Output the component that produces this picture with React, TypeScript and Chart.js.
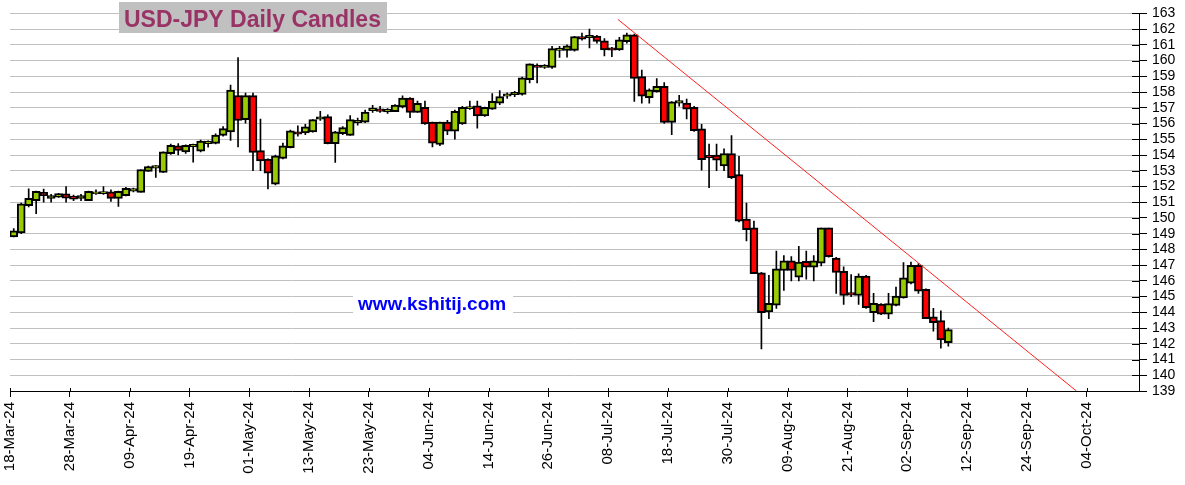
import React, { useEffect, useRef } from "react";
import { Chart, registerables } from "chart.js";

Chart.register(...registerables);

// X axis tick labels, one every 8 trading days starting at day 0
const tickLabels = [
  "18-Mar-24", "28-Mar-24", "09-Apr-24", "19-Apr-24", "01-May-24", "13-May-24",
  "23-May-24", "04-Jun-24", "14-Jun-24", "26-Jun-24", "08-Jul-24", "18-Jul-24",
  "30-Jul-24", "09-Aug-24", "21-Aug-24", "02-Sep-24", "12-Sep-24", "24-Sep-24",
  "04-Oct-24",
];
const tickStep = 8;
const dayCount = 151;

const opens = [
  148.85, 149.1, 150.84, 151.15, 151.57, 151.3, 151.38, 151.47, 151.33, 151.3,
  151.15, 151.58, 151.6, 151.6, 151.3, 151.47, 151.76, 151.68, 153.02, 153.23,
  152.95, 154.14, 154.52, 154.25, 154.58, 154.3, 154.78, 154.79, 155.31, 155.52,
  157.72, 156.31, 157.72, 154.22, 153.68, 152.2, 153.84, 154.53, 155.42, 155.46,
  155.52, 156.33, 156.38, 154.78, 155.41, 155.31, 156.11, 156.14, 156.88, 156.87,
  156.8, 156.82, 157.12, 157.55, 156.76, 156.97, 156.03, 154.73, 156.03, 155.57,
  156.03, 157.0, 157.07, 156.55, 156.97, 157.35, 157.8, 157.9, 157.91, 158.85,
  159.66, 159.63, 159.63, 160.7, 160.7, 160.7, 161.47, 161.51, 161.5, 161.2,
  160.75, 160.74, 161.26, 161.58, 158.92, 157.7, 158.08, 158.3, 156.13, 157.36,
  157.24, 156.97, 155.6, 153.92, 153.94, 153.36, 154.03, 152.69, 149.86, 149.31,
  146.45, 144.08, 144.52, 146.72, 147.22, 146.3, 147.18, 146.93, 147.18, 149.31,
  147.39, 146.55, 145.19, 145.13, 146.24, 144.04, 144.46, 143.94, 144.5, 144.98,
  145.92, 146.93, 145.4, 143.66, 143.41, 142.13,
];
const highs = [
  149.33, 150.95, 151.85, 151.7, 151.84, 151.5, 151.57, 151.99, 151.45, 151.5,
  151.7, 151.78, 151.99, 151.78, 151.7, 151.95, 151.9, 153.05, 153.3, 153.32,
  154.2, 154.7, 154.72, 154.65, 154.7, 154.95, 154.9, 155.35, 155.8, 158.45,
  160.19, 157.93, 157.93, 156.29, 153.75, 154.0, 154.75, 155.58, 155.85, 155.95,
  156.25, 156.78, 156.55, 155.5, 155.8, 156.5, 156.35, 156.85, 157.15, 157.1,
  156.95, 157.2, 157.76, 157.65, 157.42, 157.42, 156.1, 156.1, 156.2, 156.85,
  157.1, 157.42, 157.42, 157.05, 157.9, 158.1, 157.95, 158.05, 158.95, 159.8,
  159.8, 159.75, 160.9, 160.9, 161.0, 161.55, 161.75, 162.0, 161.6, 161.4,
  160.85, 161.48, 161.75, 161.68, 159.4, 158.2, 158.85, 158.6, 157.4, 157.8,
  157.55, 157.1, 155.95, 154.7, 154.7, 154.4, 155.24, 153.92, 150.95, 149.8,
  146.55, 146.35, 147.9, 147.6, 147.55, 148.2, 147.9, 147.6, 149.35, 149.35,
  147.5, 146.9, 146.4, 146.45, 146.35, 145.2, 144.55, 145.2, 145.6, 147.17,
  147.2, 147.1, 145.5, 144.25, 144.1, 143.0,
];
const lows = [
  148.8, 149.0, 150.7, 150.27, 151.0, 151.0, 151.3, 151.0, 151.1, 151.1,
  151.1, 151.5, 151.5, 151.05, 150.73, 151.4, 151.65, 151.63, 152.95, 152.58,
  152.9, 154.04, 154.0, 154.1, 153.55, 154.2, 154.5, 154.7, 155.2, 154.93,
  154.51, 156.03, 153.0, 153.0, 151.85, 152.1, 153.75, 154.45, 155.2, 155.3,
  155.45, 156.2, 154.7, 153.53, 155.3, 155.25, 155.9, 156.05, 156.7, 156.7,
  156.65, 156.75, 157.0, 156.37, 156.7, 155.95, 154.52, 154.6, 155.3, 155.0,
  155.95, 156.9, 155.7, 156.45, 156.9, 157.2, 157.6, 157.7, 157.8, 158.58,
  158.58, 159.5, 159.5, 160.2, 160.22, 160.6, 161.3, 160.8, 161.1, 160.3,
  160.25, 160.65, 161.1, 157.4, 157.3, 157.3, 158.0, 156.0, 155.3, 157.1,
  156.3, 155.5, 153.04, 151.93, 153.0, 153.0, 152.5, 149.75, 148.54, 146.45,
  141.67, 143.6, 144.25, 145.4, 146.0, 146.0, 146.1, 146.0, 146.95, 147.5,
  145.2, 144.5, 145.0, 144.5, 144.25, 143.4, 143.85, 143.6, 144.4, 144.9,
  145.8, 145.2, 143.6, 142.8, 141.73, 141.85,
];
const closes = [
  149.12, 150.84, 151.19, 151.63, 151.47, 151.36, 151.48, 151.32, 151.25, 151.36,
  151.63, 151.6, 151.62, 151.3, 151.63, 151.82, 151.8, 153.02, 153.2, 153.27,
  154.14, 154.56, 154.35, 154.56, 154.62, 154.83, 154.82, 155.2, 155.62, 158.07,
  156.25, 157.72, 154.22, 153.68, 152.9, 153.88, 154.53, 155.48, 155.38, 155.73,
  156.19, 156.37, 154.78, 155.41, 155.69, 156.19, 156.15, 156.67, 156.92, 156.83,
  156.84, 157.12, 157.55, 156.76, 157.22, 156.03, 154.81, 156.03, 155.57, 156.72,
  156.97, 157.02, 156.55, 156.97, 157.35, 157.66, 157.82, 157.92, 158.85, 159.73,
  159.62, 159.65, 160.7, 160.73, 160.88, 161.47, 161.43, 161.55, 161.28, 160.74,
  160.72, 161.26, 161.58, 158.92, 157.8, 158.08, 158.3, 156.13, 157.32, 157.4,
  156.97, 155.6, 153.77, 153.88, 153.73, 154.03, 152.62, 149.86, 149.31, 146.51,
  144.04, 144.52, 146.7, 147.22, 146.72, 147.14, 146.93, 147.22, 149.31, 147.6,
  146.59, 145.13, 145.15, 146.24, 144.35, 144.52, 143.94, 144.5, 144.98, 146.13,
  146.93, 145.4, 143.66, 143.41, 142.3, 142.84,
];

// Trendline endpoints: [day index, price]
const trendStart = [81.3, 162.62];
const trendEnd = [142.63, 139];

const yMin = 139;
const yMax = 163;

const FONT = 'Arial, "Liberation Sans", sans-serif';

const overlayPlugin = {
  id: "overlayText",
  beforeDatasetsDraw(chart: any) {
    const ctx = chart.ctx;
    ctx.save();
    // title box
    ctx.fillStyle = "#c0c0c0";
    ctx.fillRect(119, 2, 268, 31);
    ctx.fillStyle = "#993366";
    ctx.font = `bold 23px ${FONT}`;
    ctx.textBaseline = "alphabetic";
    ctx.textAlign = "left";
    ctx.fillText("USD-JPY Daily Candles", 124, 27);
    // website label
    ctx.fillStyle = "#ffffff";
    ctx.fillRect(353, 290, 160, 26);
    ctx.fillStyle = "#0000ff";
    ctx.font = `bold 19px ${FONT}`;
    ctx.fillText("www.kshitij.com", 358, 310);
    ctx.restore();
  },
  afterDraw(chart: any) {
    const ctx = chart.ctx;
    const { right, bottom } = chart.chartArea;
    const ys = chart.scales.y;
    const xs = chart.scales.x;
    ctx.save();
    ctx.strokeStyle = "#000";
    ctx.lineWidth = 1;
    ctx.beginPath();
    ys.ticks.forEach((t: any) => {
      const py = Math.round(ys.getPixelForValue(t.value)) + 0.5;
      ctx.moveTo(right - 7, py);
      ctx.lineTo(right, py);
    });
    xs.ticks.forEach((t: any) => {
      const px = Math.round(xs.getPixelForValue(t.value)) + 0.5;
      ctx.moveTo(px, bottom - 3);
      ctx.lineTo(px, bottom);
    });
    ctx.stroke();
    ctx.restore();
  },
};

export default function App() {
  const ref = useRef<HTMLCanvasElement | null>(null);

  useEffect(() => {
    if (!ref.current) return;
    const bodyPad = 0.06;
    const bodies = opens.map((o, i) => ({
      x: i + 0.5,
      y: [Math.min(o, closes[i]) - bodyPad, Math.max(o, closes[i]) + bodyPad],
    }));
    const bodyColors = opens.map((o, i) => (closes[i] >= o ? "#99cc00" : "#ff0000"));
    const wicks = highs.map((h, i) => ({ x: i + 0.5, y: [lows[i], h] }));

    const chart = new Chart(ref.current, {
      type: "bar",
      data: {
        datasets: [
          {
            type: "line",
            data: [
              { x: trendStart[0], y: trendStart[1] },
              { x: trendEnd[0], y: trendEnd[1] },
            ],
            borderColor: "#ff2020",
            borderWidth: 1,
            pointRadius: 0,
            fill: false,
            order: 0,
          } as any,
          {
            type: "bar",
            data: bodies as any,
            backgroundColor: bodyColors,
            borderColor: "#000000",
            borderWidth: 2,
            borderSkipped: false,
            barThickness: 8,
            grouped: false,
            order: 1,
          } as any,
          {
            type: "bar",
            data: wicks as any,
            backgroundColor: "#000000",
            borderWidth: 0,
            barThickness: 1,
            grouped: false,
            order: 2,
          } as any,
        ],
      },
      options: {
        animation: false,
        responsive: false,
        events: [],
        layout: { padding: { left: 10, top: 9, right: 0, bottom: 0 } },
        plugins: {
          legend: { display: false },
          tooltip: { enabled: false },
          title: { display: false },
        },
        scales: {
          x: {
            type: "linear",
            min: 0,
            max: dayCount,
            offset: false,
            afterBuildTicks: (scale: any) => {
              scale.ticks = tickLabels.map((_, k) => ({ value: k * tickStep }));
            },
            afterFit: (scale: any) => {
              scale.height = 94;
            },
            grid: {
              drawOnChartArea: false,
              drawTicks: true,
              tickLength: 6,
              tickColor: "#000000",
              offset: false,
            },
            border: { display: true, color: "#000000", width: 1 },
            ticks: {
              autoSkip: false,
              minRotation: 90,
              maxRotation: 90,
              padding: 5,
              color: "#000000",
              font: { family: FONT, size: 15 },
              callback: (v: any) => tickLabels[Math.round(Number(v) / tickStep)] ?? "",
            },
          },
          y: {
            type: "linear",
            position: "right",
            min: yMin,
            max: yMax,
            afterFit: (scale: any) => {
              scale.width = 46;
            },
            grid: {
              color: "#c0c0c0",
              lineWidth: 1,
              drawTicks: true,
              tickLength: 8,
              tickColor: "#000000",
            },
            border: { display: true, color: "#000000", width: 1 },
            ticks: {
              autoSkip: false,
              stepSize: 1,
              padding: 5,
              color: "#000000",
              font: { family: FONT, size: 14 },
              callback: (v: any) => String(v),
            },
          },
        },
      },
      plugins: [overlayPlugin],
    });
    return () => chart.destroy();
  }, []);

  return (
    <div style={{ position: "absolute", left: 0, top: 0, width: 1185, height: 485, background: "#fff" }}>
      <canvas ref={ref} width={1185} height={485} style={{ width: 1185, height: 485, display: "block" }} />
    </div>
  );
}
